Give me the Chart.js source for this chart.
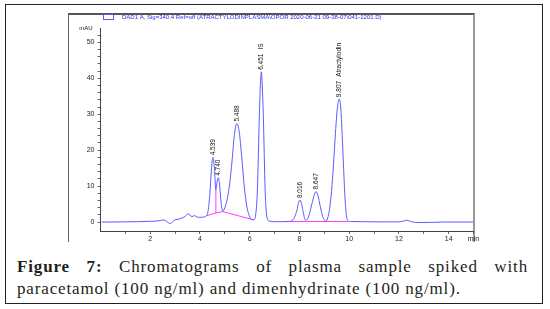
<!DOCTYPE html>
<html><head><meta charset="utf-8">
<script src="https://cdn.jsdelivr.net/npm/chart.js@4.4.1/dist/chart.umd.min.js"></script>
<style>
html,body{margin:0;padding:0;background:#fff;width:550px;height:309px;overflow:hidden;}
#box{position:absolute;left:5px;top:4px;width:538px;height:300px;border:1.5px solid #222;box-sizing:border-box;}
#frame{position:absolute;left:68px;top:13px;width:407px;height:229px;border-left:1px solid #666;border-top:2px solid #555;border-right:2px solid #999;box-sizing:border-box;}
#wrap{position:absolute;left:0;top:0;width:550px;height:250px;}
#cap{position:absolute;left:17px;top:256px;width:511px;font-family:"Liberation Serif","Times New Roman",serif;font-size:17px;letter-spacing:0.85px;color:#231f20;line-height:22px;}
#cap .l1{text-align:justify;text-align-last:justify;}
#cap b{font-weight:bold;}
</style></head>
<body>
<div id="box"></div>
<div id="frame"></div>
<div id="wrap"><canvas id="c" width="550" height="250"></canvas></div>
<div id="cap"><div class="l1"><b>Figure 7:</b> Chromatograms of plasma sample spiked with</div><div>paracetamol (100 ng/ml) and dimenhydrinate (100 ng/ml).</div></div>
<script>
// ---- data ----
const seriesLabel = "DAD1 A, Sig=340,4 Ref=off (ATRACTYLODINPLASMA\\OPOR 2020-06-21 09-38-07\\041-1201.D)";
const timeMin = [0.05,0.5,1.0,1.5,2.0,2.3,2.45,2.55,2.65,2.75,2.82,2.9,3.0,3.15,3.3,3.42,3.52,3.6,3.68,3.78,3.88,4.0,4.15,4.25,4.33,4.4,4.46,4.52,4.58,4.64,4.69,4.74,4.79,4.85,4.91,5.0,5.1,5.2,5.29,5.38,5.48,5.58,5.68,5.78,5.88,5.98,6.08,6.16,6.24,6.31,6.39,6.43,6.47,6.51,6.55,6.62,6.69,6.77,7.0,7.3,7.6,7.7,7.8,7.9,7.96,8.02,8.08,8.14,8.2,8.26,8.33,8.42,8.5,8.59,8.67,8.75,8.83,8.91,8.99,9.07,9.14,9.21,9.29,9.37,9.45,9.53,9.60,9.66,9.72,9.77,9.83,9.89,9.95,10.05,10.5,11.0,11.5,12.0,12.18,12.3,12.42,12.55,12.8,13.3,13.8,14.3,15.0];
const signalMAU = [0,0,0.05,0.1,0.2,0.3,0.5,0.6,0.2,-0.3,-0.4,0.1,0.6,0.8,1.2,1.6,2.3,1.9,1.5,1.8,1.4,1.3,1.4,1.7,3.2,8,14.5,18,15,9,11.3,12.3,10.2,5.5,3.0,4.0,6.5,11,17,24,27.4,25,18,10,4.5,1.8,0.7,0.6,2,9,30,38,41.8,37,29,9,1.5,0.3,0.1,0.1,0.15,0.4,1.3,3.3,5.2,6.1,5.2,3.2,1.2,0.5,0.9,2.7,5,7.4,8.5,7.2,4.6,2.1,0.7,0.3,1.2,3.5,8.5,16,25,32,34.2,32,24,16,7,1.8,0.4,0.15,0.1,0.05,0.05,0.05,0.25,0.5,0.3,0,-0.15,-0.1,0,0,0];
const baselineMin = [4.25,4.64,4.91,6.16,7.0,7.6,9.95];
const baselineMAU = [1.7,2.5,2.9,0.6,null,0.15,0.15];
const dropMin = [4.64,4.64];
const dropMAU = [2.5,9];
const peakLabels = ["4.539","4.740","5.488","6.451","8.016","8.647","9.807"];
const peakNames  = ["","","","IS","","","Atractylodin"];
const peakApexMin = [4.52,4.74,5.48,6.47,8.02,8.67,9.60];
const peakApexMAU = [18,12.3,27.4,41.8,6.1,8.5,34.2];
const yTickValues = [0,2,4,6,8,10,12,14,16,18,20,22,24,26,28,30,32,34,36,38,40,42,44,46,48,50,52];
const yTickLabels = [0,10,20,30,40,50];
const xTickValues = [1,2,3,4,5,6,7,8,9,10,11,12,13,14,15];
const xTickLabels = [2,4,6,8,10,12,14];
const xUnitLabel = "min";
const yUnitLabel = "mAU";

const pts = (xs, ys) => xs.map((t, i) => ({x: t, y: ys[i]}));

const annot = {
  id: 'annot',
  afterDatasetsDraw(chart) {
    const ctx = chart.ctx, x = chart.scales.x, y = chart.scales.y;
    ctx.save();
    ctx.fillStyle = '#111';
    ctx.font = '6.5px "Liberation Sans", Arial, sans-serif';
    peakLabels.forEach((lab, i) => {
      const px = x.getPixelForValue(peakApexMin[i]);
      const py = y.getPixelForValue(peakApexMAU[i]) - 2;
      ctx.save();
      ctx.translate(px, py);
      ctx.rotate(-Math.PI / 2);
      ctx.textAlign = 'left';
      ctx.textBaseline = 'middle';
      ctx.fillText(lab, 0, 0);
      if (peakNames[i]) {
        const w = ctx.measureText(lab).width;
        ctx.fillText(peakNames[i], w + 4, 0);
      }
      ctx.restore();
    });
    // unit label of y axis
    ctx.font = '6px "Liberation Sans", Arial, sans-serif';
    ctx.fillStyle = '#222';
    ctx.textAlign = 'right';
    ctx.textBaseline = 'middle';
    ctx.fillText(yUnitLabel, chart.chartArea.left - 8, chart.chartArea.top);
    // legend
    const ds = chart.data.datasets[0];
    ctx.strokeStyle = ds.borderColor;
    ctx.lineWidth = 1;
    ctx.strokeRect(103.5, 14.5, 10, 5);
    ctx.fillStyle = '#2b2be6';
    ctx.font = '6px "Liberation Sans", Arial, sans-serif';
    ctx.textAlign = 'left';
    ctx.fillText(ds.label, 122, 17.5);
    ctx.restore();
  }
};

new Chart(document.getElementById('c'), {
  type: 'line',
  data: {
    datasets: [
      {label: seriesLabel, data: pts(timeMin, signalMAU), borderColor: '#5b5bff', borderWidth: 1, pointRadius: 0, cubicInterpolationMode: 'monotone', fill: false},
      {label: 'baseline', data: pts(baselineMin, baselineMAU), borderColor: '#ff3cff', borderWidth: 1, pointRadius: 0, tension: 0, spanGaps: false, fill: false},
      {label: 'drop', data: pts(dropMin, dropMAU), borderColor: '#ff3cff', borderWidth: 1, pointRadius: 0, tension: 0, fill: false}
    ]
  },
  options: {
    responsive: false,
    animation: false,
    devicePixelRatio: 1,
    layout: {padding: {top: 28, right: 76.5, left: 0, bottom: 0}},
    plugins: {legend: {display: false}, tooltip: {enabled: false}},
    scales: {
      x: {
        type: 'linear', min: 0, max: 15,
        afterBuildTicks: s => { s.ticks = xTickValues.map(v => ({value: v})); },
        afterFit: s => { s.height = 19; },
        grid: {drawOnChartArea: false, drawTicks: true, tickLength: 3, tickColor: '#444', tickWidth: 0.8},
        border: {display: true, color: '#444', width: 1},
        ticks: {
          autoSkip: false, maxRotation: 0, padding: 1, color: '#222',
          font: {family: '"Liberation Sans", Arial, sans-serif', size: 7},
          callback: v => xTickLabels.includes(v) ? String(v) : (v === 15 ? xUnitLabel : '')
        }
      },
      y: {
        type: 'linear', min: -2.5, max: 54,
        afterBuildTicks: s => { s.ticks = yTickValues.map(v => ({value: v})); },
        afterFit: s => { s.width = 100.5; },
        grid: {drawOnChartArea: false, drawTicks: true, tickLength: 3, tickColor: '#444', tickWidth: 0.8},
        border: {display: true, color: '#444', width: 1},
        ticks: {
          autoSkip: false, padding: 3, color: '#222',
          font: {family: '"Liberation Sans", Arial, sans-serif', size: 7},
          callback: v => yTickLabels.includes(v) ? String(v) : ''
        }
      }
    }
  },
  plugins: [annot]
});
</script>
</body></html>
